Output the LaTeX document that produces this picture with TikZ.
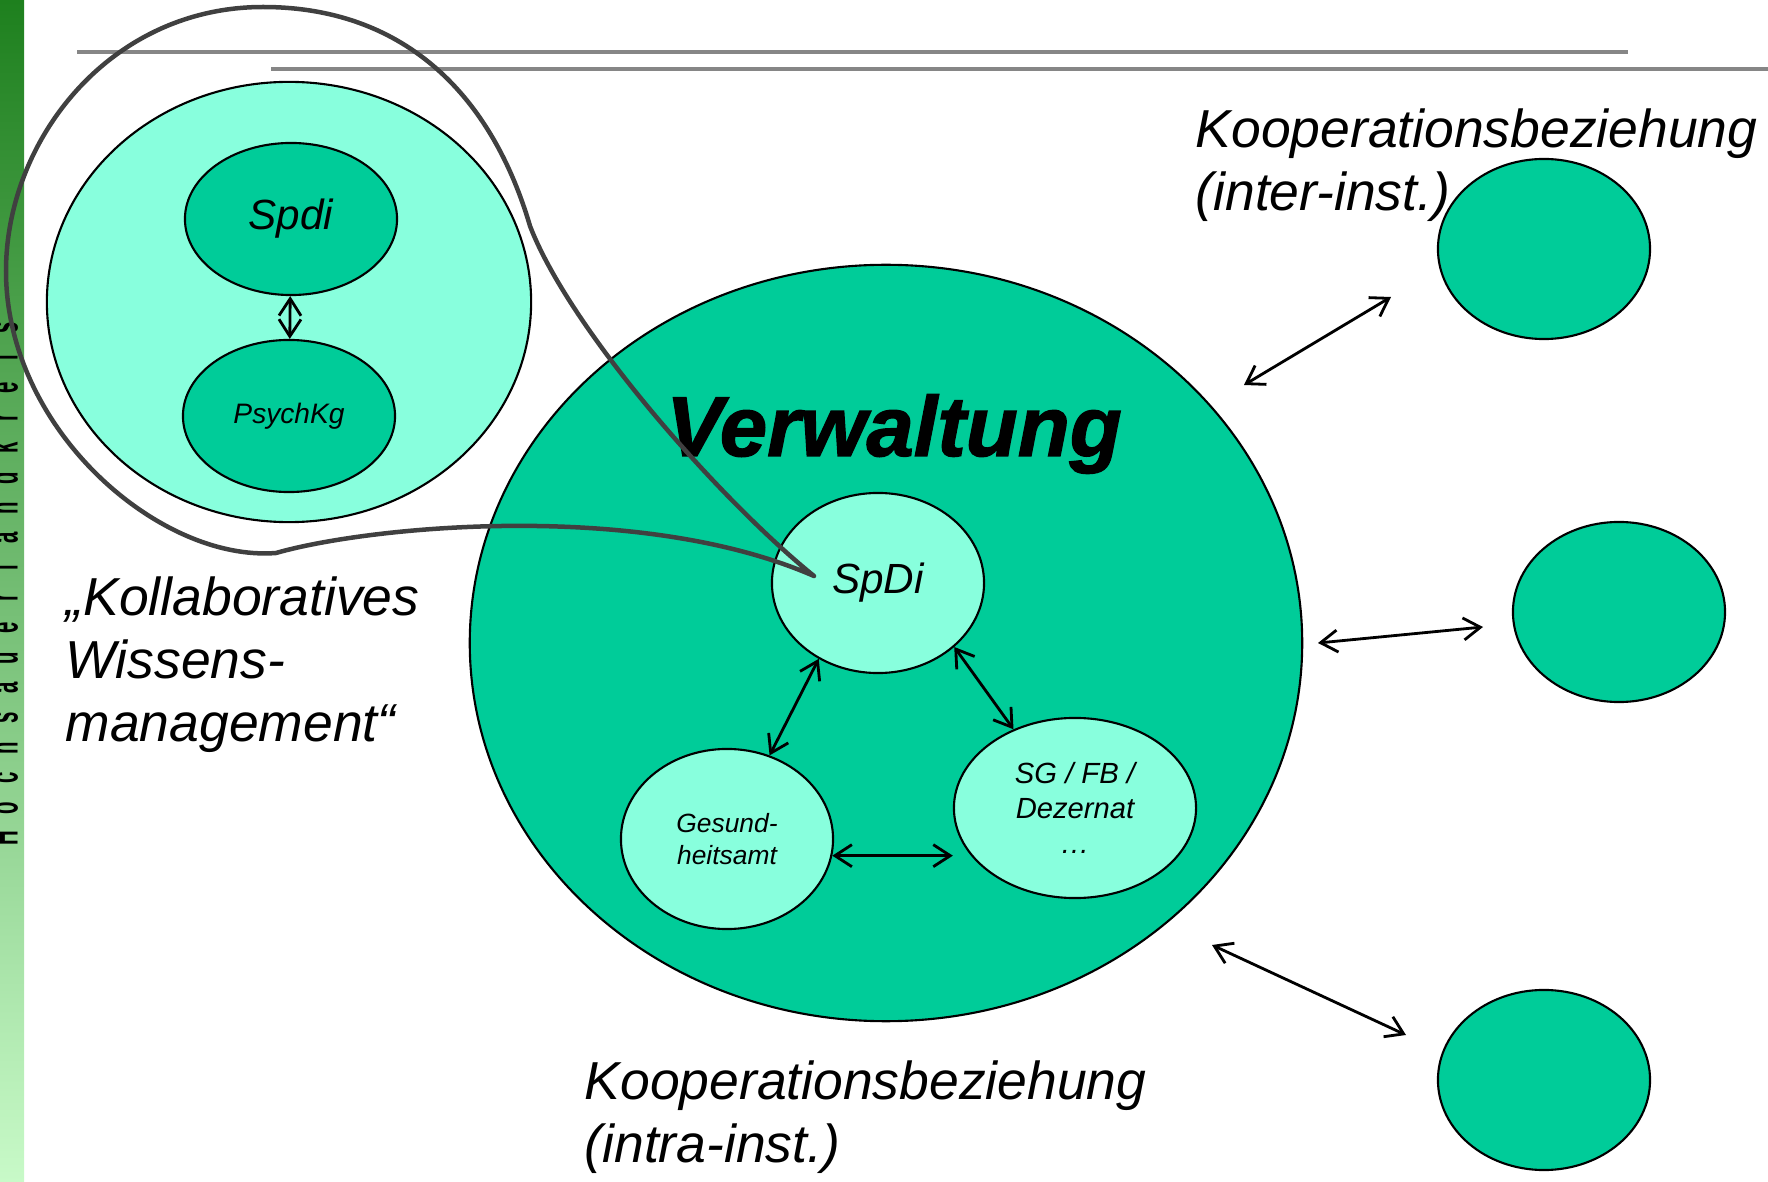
\documentclass[tikz,border=0pt]{standalone}
\usepackage{fontspec}
\setmainfont{Liberation Sans}
\usetikzlibrary{shapes.geometric,arrows.meta}
\definecolor{mintlight}{RGB}{136,255,221}
\definecolor{mintdark}{RGB}{0,204,153}
\definecolor{loopgray}{RGB}{64,64,64}
\definecolor{rulegray}{RGB}{134,134,134}
\definecolor{bartop}{RGB}{30,128,30}
\definecolor{barbottom}{RGB}{200,250,200}

\begin{document}
\begin{tikzpicture}[x=0.01cm,y=-0.01cm,
  blob/.style={ellipse,draw=black,line width=0.6pt,inner sep=0pt},
  light/.style={blob,fill=mintlight},
  dark/.style={blob,fill=mintdark},
  link/.style={<->,>={Straight Barb[length=0.17cm,width=0.22cm]},line width=0.8pt},
  caption/.style={font=\itshape\fontsize{15.2}{17.9}\selectfont,align=left,inner sep=0pt,anchor=north west}]

\def\barwidth{24};
\def\lettergap{30};

\useasboundingbox (0,0) rectangle (1768,1182);

% side bar
\shade[top color=bartop,bottom color=barbottom] (0,0) rectangle (\barwidth,1182);
\foreach \c [count=\i] in {H,o,c,h,s,a,u,e,r,l,a,n,d,k,r,e,i,s}
  \node[rotate=90,yscale=2.1,anchor=base,inner sep=0pt,font=\bfseries\fontsize{5.8}{7}\selectfont] (bar\i) at (17.5,{838-(\i-1)*\lettergap}) {\c};

% header rules
\draw[rulegray,line width=0.04cm] (77,52) -- (1628,52);
\draw[rulegray,line width=0.04cm] (271,69) -- (1768,69);

% zoomed part
\node[light,minimum width=4.84cm,minimum height=4.4cm] (zoomcircle) at (289,302) {};
\node[dark,minimum width=2.12cm,minimum height=1.52cm,font=\itshape\fontsize{12}{14}\selectfont] (spdi) at (291,219) {Spdi};
\node[dark,minimum width=2.12cm,minimum height=1.52cm,font=\itshape\fontsize{8}{9.6}\selectfont] (psychkg) at (289,416) {PsychKg};
\draw[link] (spdi) -- (psychkg);

% administration
\node[dark,minimum width=8.32cm,minimum height=7.56cm] (verwaltung) at (886,643) {};
\node[anchor=base,inner sep=0pt,font=\bfseries\itshape\fontsize{24.2}{29}\selectfont\addfontfeature{FakeBold=1.6}] (verwtitle) at (894,456) {Verwaltung};
\node[light,minimum width=2.12cm,minimum height=1.8cm,font=\itshape\fontsize{12}{14}\selectfont] (spdiv) at (878,583) {SpDi};
\node[light,minimum width=2.12cm,minimum height=1.8cm,font=\itshape\fontsize{7.5}{9.1}\selectfont,align=center] (gesund) at (727,839) {Gesund-\\heitsamt};
\node[light,minimum width=2.42cm,minimum height=1.8cm,font=\itshape\fontsize{8.3}{10}\selectfont,align=center] (sgfb) at (1075,808) {SG / FB /\\Dezernat\\…};
\draw[link] (spdiv.232) -- (gesund.63);
\draw[link] (spdiv.320) -- (sgfb.128);
\draw[link] (gesund.-9) -- (gesund.-9 -| sgfb.west);

% partners outside
\node[dark,minimum width=2.12cm,minimum height=1.8cm] (partnerA) at (1544,249) {};
\node[dark,minimum width=2.12cm,minimum height=1.8cm] (partnerB) at (1619,612) {};
\node[dark,minimum width=2.12cm,minimum height=1.8cm] (partnerC) at (1544,1080) {};
\coordinate (ka1) at (1244,385);
\coordinate (ka2) at (1391,297);
\coordinate (kb1) at (1318,643);
\coordinate (kb2) at (1483,627);
\coordinate (kc1) at (1212,945);
\coordinate (kc2) at (1406,1035);
\draw[link] (ka1) -- (ka2);
\draw[link] (kb1) -- (kb2);
\draw[link] (kc1) -- (kc2);

% labels
\node[caption] (interlbl) at (1195,108) {Kooperationsbeziehung\\(inter-inst.)};
\node[caption] (intralbl) at (584,1060) {Kooperationsbeziehung\\(intra-inst.)};
\node[caption] (wissenlbl) at (65,576) {„Kollaboratives\\Wissens-\\management“};

% magnifier outline
\coordinate (zoompt) at (814,576);
\draw[loopgray,line width=0.045cm,line cap=round,line join=round]
  (zoompt) .. controls (720,500) and (570,330) .. (530,226)
  .. controls (490,90) and (400,7) .. (263,7)
  .. controls (110,7) and (6,140) .. (6,271)
  .. controls (6,430) and (160,562) .. (276,553)
  .. controls (370,526) and (640,500) .. (zoompt);
\end{tikzpicture}
\end{document}
